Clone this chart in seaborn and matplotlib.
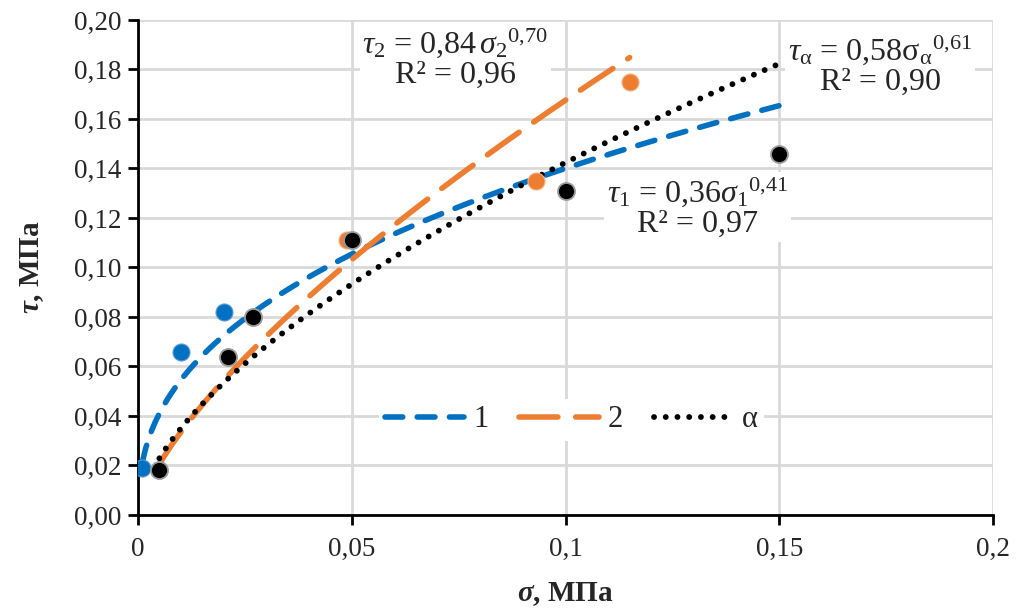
import numpy as np
import pandas as pd
import matplotlib
matplotlib.use("Agg")
import matplotlib.pyplot as plt
import seaborn as sns
from matplotlib.ticker import FuncFormatter, MultipleLocator

sns.set_theme(style="white")
plt.rcParams['font.family'] = ['Liberation Serif', 'DejaVu Serif']
plt.rcParams['mathtext.fontset'] = 'custom'
plt.rcParams['mathtext.rm'] = 'Liberation Serif'
plt.rcParams['mathtext.it'] = 'Liberation Serif:italic'
plt.rcParams['mathtext.bf'] = 'Liberation Serif:bold'
plt.rcParams['mathtext.bfit'] = 'Liberation Serif:italic:bold'

# measured points (sigma, tau), MPa
sigma_1 = [0.001, 0.010, 0.020]
tau_1 = [0.019, 0.066, 0.082]
sigma_2 = [0.005, 0.021, 0.027, 0.049, 0.093, 0.115]
tau_2 = [0.018, 0.064, 0.080, 0.111, 0.135, 0.175]
sigma_a = [0.005, 0.021, 0.027, 0.050, 0.100, 0.150]
tau_a = [0.018, 0.064, 0.080, 0.111, 0.131, 0.146]

# power trend lines tau = a * sigma^b (coefficients as shown on the chart)
trend_a = [0.36, 0.84, 0.58]
trend_b = [0.41, 0.70, 0.61]
trend_from = [0.001, 0.005, 0.005]
trend_to = [0.15, 0.115, 0.15]
series_names = ['1', '2', 'α']
colors = ['#0070c0', '#ed7d31', '#000000']

fig = plt.figure(figsize=(10.17, 6.13), dpi=100)
ax = fig.add_axes([0.1357, 0.1599, 0.8407, 0.8075])

# trend lines
widths = [4.0, 4.0, 4.2]
dash_list = [(3.2, 2.6), (7.0, 3.2), (0.01, 2.0)]
lines = []
for i in range(3):
    xs = np.linspace(trend_from[i], trend_to[i], 200)
    df = pd.DataFrame({'x': xs, 'y': trend_a[i] * xs ** trend_b[i]})
    sns.lineplot(data=df, x='x', y='y', ax=ax, color=colors[i], lw=widths[i],
                 label=series_names[i])
    ln = ax.lines[-1]
    ln.set_dashes(dash_list[i])
    ln.set_dash_capstyle('round')
    lines.append(ln)

# points
sns.scatterplot(x=sigma_1, y=tau_1, ax=ax, color=colors[0], s=150,
                edgecolor='#5b9bd5', linewidth=0.8, zorder=5)
sns.scatterplot(x=sigma_2, y=tau_2, ax=ax, color=colors[1], s=150,
                edgecolor='#f4b183', linewidth=0.8, zorder=6)
sns.scatterplot(x=sigma_a, y=tau_a, ax=ax, color=colors[2], s=150,
                edgecolor='#9a9a9a', linewidth=1.3, zorder=7)

ax.set_xlim(0, 0.2)
ax.set_ylim(0, 0.2)
ax.xaxis.set_major_locator(MultipleLocator(0.05))
ax.yaxis.set_major_locator(MultipleLocator(0.02))
ax.xaxis.set_major_formatter(FuncFormatter(lambda v, p: ('%g' % round(v, 3)).replace('.', ',')))
ax.yaxis.set_major_formatter(FuncFormatter(lambda v, p: ('%.2f' % v).replace('.', ',')))
ax.tick_params(axis='both', labelsize=19.5, direction='out', length=7, width=2,
               color='black', bottom=True, left=True, pad=5)
ax.tick_params(axis='x', pad=9)
ax.grid(True, color='#d9d9d9', lw=2)
ax.set_axisbelow(True)
for s in ['top', 'right']:
    ax.spines[s].set_visible(False)
for s in ['left', 'bottom']:
    ax.spines[s].set_color('black')
    ax.spines[s].set_linewidth(2)

ax.set_xlabel(r'$\mathbfit{\sigma}$, МПа', fontsize=21, fontweight='bold', labelpad=13)
ax.set_ylabel(r'$\mathbfit{\tau}$, МПа', fontsize=21, fontweight='bold', labelpad=20)

leg = ax.legend(handles=lines, labels=series_names, ncol=3, loc='center',
                bbox_to_anchor=(0.507, 0.192), fontsize=22, frameon=True,
                facecolor='white', edgecolor='none', framealpha=1,
                handlelength=2.6, columnspacing=1.0, handletextpad=0.3,
                borderpad=0.2)

box = dict(facecolor='white', edgecolor='none', pad=2)
ax.text(0.0742, 0.1846, '$\\tau_2$ = 0,84$\\,\\sigma_2{}^{0{,}70}$\nR² = 0,96',
        ha='center', va='center', fontsize=23, bbox=box, linespacing=1.05, zorder=8)
ax.text(0.1736, 0.1818, '$\\tau_\\mathrm{α}$ = 0,58σ$_\\mathrm{α}{}^{0{,}61}$\nR² = 0,90',
        ha='center', va='center', fontsize=23, bbox=box, linespacing=1.05, zorder=8)
ax.text(0.1308, 0.1244, '$\\tau_1$ = 0,36$\\sigma_1{}^{0{,}41}$\nR² = 0,97',
        ha='center', va='center', fontsize=23, bbox=box, linespacing=1.05, zorder=8)

fig.savefig('out.png', dpi=100)
